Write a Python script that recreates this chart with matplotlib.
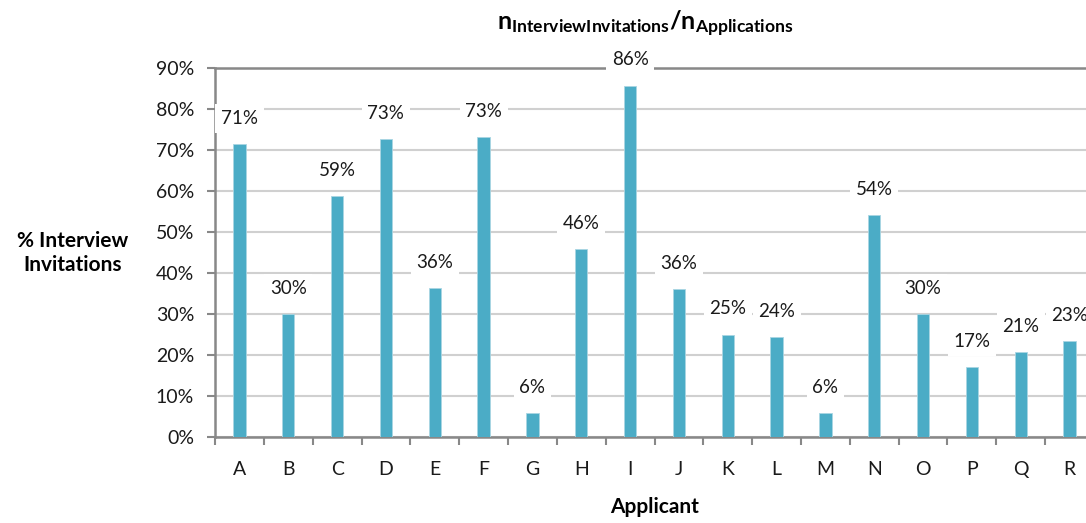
import matplotlib.pyplot as plt
import numpy as np

plt.rcParams['font.family'] = ['Lato', 'DejaVu Sans']
plt.rcParams['mathtext.fontset'] = 'custom'
plt.rcParams['mathtext.rm'] = 'Lato'
plt.rcParams['mathtext.bf'] = 'Lato:bold'

# data
applicants = list("ABCDEFGHIJKLMNOPQR")
values = [71.4, 30.0, 58.8, 72.7, 36.4, 73.1, 5.9, 45.8, 85.7,
          36.0, 25.0, 24.4, 5.9, 54.1, 30.0, 17.0, 20.8, 23.3]
labels = ["71%", "30%", "59%", "73%", "36%", "73%", "6%", "46%", "86%",
          "36%", "25%", "24%", "6%", "54%", "30%", "17%", "21%", "23%"]
yticks = [0, 10, 20, 30, 40, 50, 60, 70, 80, 90]

fig = plt.figure(figsize=(10.86, 5.23), dpi=100)
# axes deliberately runs past the right edge, like the original
ax = fig.add_axes([215 / 1086, 1 - 437 / 523, 879 / 1086, 369 / 523])

x = np.arange(len(applicants))
ax.bar(x, values, width=0.25, color='#4bacc6', edgecolor='#a9d6e3',
       linewidth=0.6, zorder=3)

for xi, v, lab in zip(x, values, labels):
    ax.annotate(lab, (xi, v), xytext=(0, 18.5), textcoords='offset points',
                ha='center', va='center', fontsize=13.5, color='#1a1a1a',
                bbox=dict(facecolor='white', edgecolor='none', pad=4),
                zorder=4)

ax.set_xlim(-0.5, len(applicants) - 0.5)
ax.set_ylim(0, 90)
ax.set_yticks(yticks)
ax.set_yticklabels([f"{t}%" for t in yticks], fontsize=14, color='#1a1a1a')
ax.set_xticks(x)
ax.set_xticklabels(applicants, fontsize=14, color='#1a1a1a')
ax.set_xticks(np.arange(-0.5, len(applicants), 1), minor=True)

ax.tick_params(axis='x', which='major', length=0, pad=17)
ax.tick_params(axis='x', which='minor', length=6, width=1.5, color='#888888')
ax.tick_params(axis='y', length=6, width=1.5, color='#888888', pad=9)

ax.yaxis.grid(True, color='#d0d0d0', linewidth=1.5, zorder=0)
ax.set_axisbelow(True)
for side in ['left', 'bottom', 'top']:
    ax.spines[side].set_color('#888888')
    ax.spines[side].set_linewidth(1.8)
ax.spines['right'].set_visible(False)

fig.text(645 / 1086, 1 - 24 / 523,
         r'$\mathbf{n_{InterviewInvitations}/n_{Applications}}$',
         ha='center', va='center', fontsize=18)
fig.text(73 / 1086, 1 - 253 / 523, "% Interview\nInvitations",
         ha='center', va='center', fontsize=15, fontweight='bold',
         linespacing=1.3)
fig.text(655 / 1086, 1 - 507 / 523, "Applicant", ha='center', va='center',
         fontsize=15, fontweight='bold')

fig.savefig('out.png', dpi=100)
